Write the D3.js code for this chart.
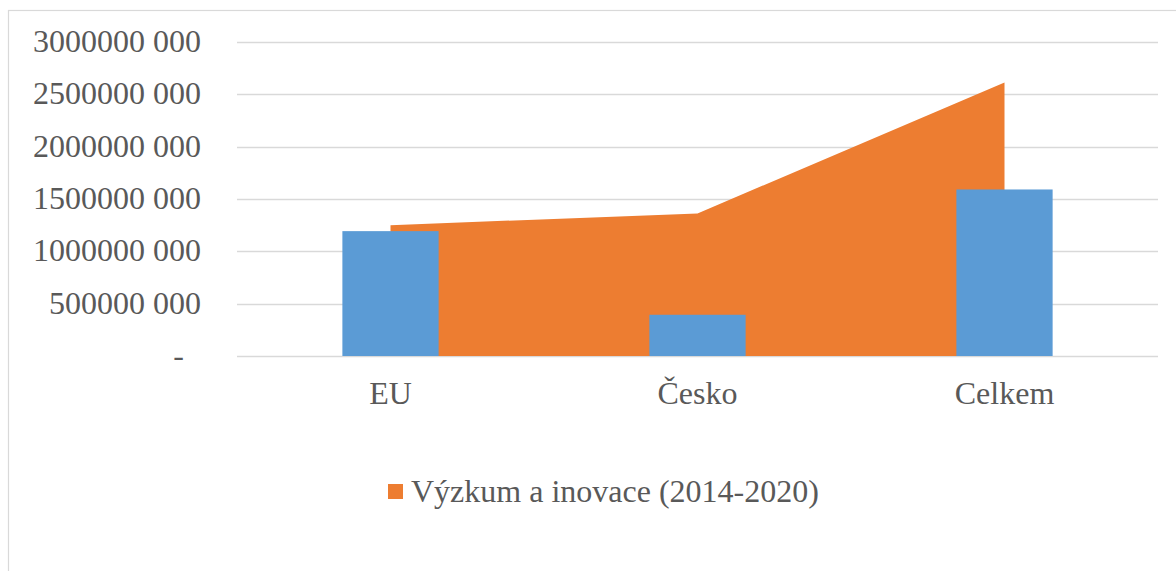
<!DOCTYPE html>
<html>
<head>
<meta charset="utf-8">
<script src="https://cdn.jsdelivr.net/npm/d3@7"></script>
<style>
  body { margin: 0; background: #fff; }
  svg { display: block; }
</style>
</head>
<body>
<div id="chart"></div>
<script>
// data
const categories = ['EU', 'Česko', 'Celkem'];
const areaValues = [1250000000, 1362000000, 2612000000];   // Výzkum a inovace (2014-2020)
const barValues = [1193000000, 394000000, 1591000000];
const yTicks = [0, 500000000, 1000000000, 1500000000, 2000000000, 2500000000, 3000000000];
const legendLabel = 'Výzkum a inovace (2014-2020)';

const W = 1176, H = 571;
const FONT = '"Liberation Serif", "Times New Roman", serif';
const TEXT = '#595959';

const svg = d3.select('#chart').append('svg')
  .attr('width', W)
  .attr('height', H);

// chart frame (cut off on right / bottom)
svg.append('rect')
  .attr('x', 8.5).attr('y', 10.5)
  .attr('width', W + 20).attr('height', H + 20)
  .attr('fill', '#fff')
  .attr('stroke', '#D9D9D9')
  .attr('stroke-width', 1.2);

const plot = { left: 237, right: 1158, top: 42, bottom: 356 };

const x = d3.scaleBand()
  .domain(categories)
  .range([plot.left, plot.right])
  .padding(0);

const y = d3.scaleLinear()
  .domain([0, 3000000000])
  .range([plot.bottom, plot.top]);

// value format like "3000000 000", zero as "-"
const fmt = v => v === 0 ? '-' : Math.floor(v / 1000) + ' ' + String(v % 1000).padStart(3, '0');

// gridlines
svg.append('g')
  .selectAll('line')
  .data(yTicks)
  .enter().append('line')
  .attr('x1', plot.left).attr('x2', plot.right)
  .attr('y1', d => Math.round(y(d)) + 0.5)
  .attr('y2', d => Math.round(y(d)) + 0.5)
  .attr('stroke', '#D9D9D9')
  .attr('stroke-width', 1.5);

// y axis labels
const yAxis = svg.append('g')
  .attr('transform', `translate(201,0)`)
  .call(d3.axisLeft(y).tickValues(yTicks).tickFormat(fmt).tickSize(0).tickPadding(0));
yAxis.select('.domain').remove();
yAxis.selectAll('text')
  .attr('font-family', FONT)
  .attr('font-size', 32)
  .attr('fill', TEXT)
  .attr('dy', '0.3em')
  .attr('dx', d => d === 0 ? -17 : 0);

// area series (behind the bars), from first to last category centre
const cx = d => x(d) + x.bandwidth() / 2;
const area = d3.area()
  .x((d, i) => cx(categories[i]))
  .y0(y(0))
  .y1(d => y(d));

svg.append('path')
  .datum(areaValues)
  .attr('d', area)
  .attr('fill', '#ED7D31');

// bar series
const barW = x.bandwidth() / 3.19;
svg.append('g')
  .selectAll('rect')
  .data(barValues)
  .enter().append('rect')
  .attr('x', (d, i) => cx(categories[i]) - barW / 2)
  .attr('y', d => y(d))
  .attr('width', barW)
  .attr('height', d => y(0) - y(d))
  .attr('fill', '#5B9BD5');

// x axis labels
const xAxis = svg.append('g')
  .attr('transform', `translate(0,${plot.bottom})`)
  .call(d3.axisBottom(x).tickSize(0).tickPadding(0));
xAxis.select('.domain').remove();
xAxis.selectAll('text')
  .attr('font-family', FONT)
  .attr('font-size', 32)
  .attr('fill', TEXT)
  .attr('dy', null)
  .attr('y', 48);

// legend
const legend = svg.append('g').attr('transform', 'translate(388,484)');
legend.append('rect')
  .attr('width', 15).attr('height', 15)
  .attr('fill', '#ED7D31');
legend.append('text')
  .attr('x', 23).attr('y', 18)
  .attr('font-family', FONT)
  .attr('font-size', 32)
  .attr('fill', TEXT)
  .text(legendLabel);
</script>
</body>
</html>
